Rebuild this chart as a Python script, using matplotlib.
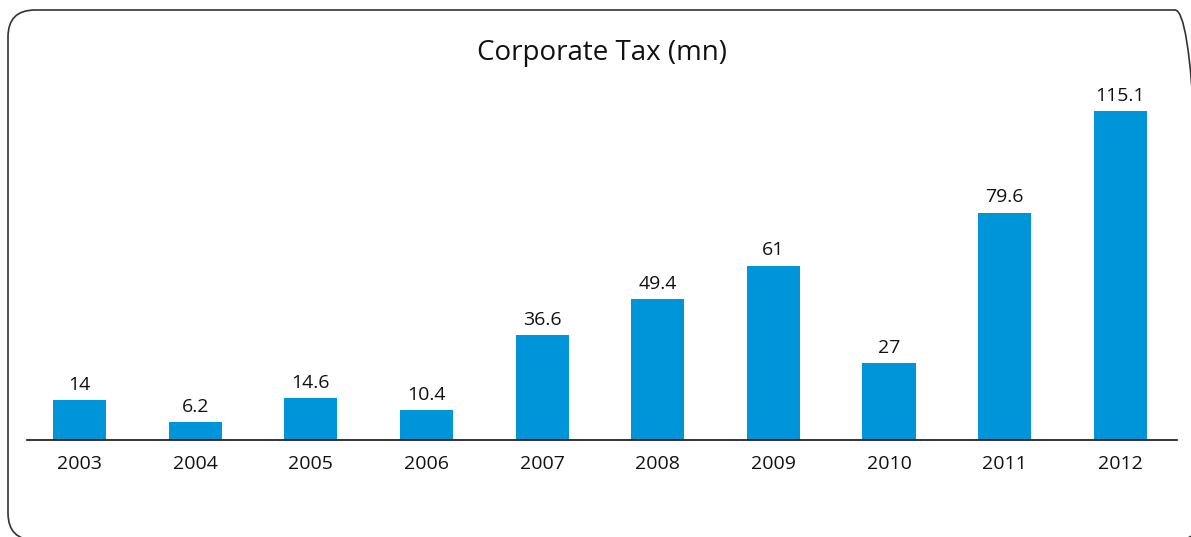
import matplotlib.pyplot as plt
from matplotlib.patches import FancyBboxPatch
from matplotlib.transforms import IdentityTransform

years = ['2003', '2004', '2005', '2006', '2007', '2008', '2009', '2010', '2011', '2012']
tax = [14, 6.2, 14.6, 10.4, 36.6, 49.4, 61, 27, 79.6, 115.1]
labels = ['14', '6.2', '14.6', '10.4', '36.6', '49.4', '61', '27', '79.6', '115.1']

plt.rcParams['font.family'] = ['Open Sans', 'DejaVu Sans']

W, H = 1191, 537
fig = plt.figure(figsize=(W / 100, H / 100), dpi=100)

# axes placed in pixel terms: baseline at y=440, line from x=27 to x=1177
ax = fig.add_axes([27 / W, 1 - 440 / H, (1177 - 27) / W, (440 - 90) / H])
x = range(len(years))
ax.bar(x, tax, width=0.46, color='#0094d9')
ax.set_xlim(-0.455, 9.49)
ax.set_ylim(0, (440 - 90) / 2.858)

for i, (v, s) in enumerate(zip(tax, labels)):
    ax.text(i, v + 2.2, s, ha='center', va='bottom', fontsize=14, color='#111111')

for side in ['top', 'right', 'left']:
    ax.spines[side].set_visible(False)
ax.spines['bottom'].set_linewidth(1.2)
ax.spines['bottom'].set_color('#111111')
ax.set_yticks([])
ax.set_xticks(list(x))
ax.set_xticklabels(years, fontsize=14, color='#111111')
ax.tick_params(axis='x', length=0, pad=11)

fig.text(602 / W, 1 - 53 / H, 'Corporate Tax (mn)', ha='center', va='center',
         fontsize=20, color='#111111')

# rounded frame, in pixels (right edge sits off the canvas)
box = FancyBboxPatch((8, -3), 1194, 530, boxstyle='round,pad=0,rounding_size=27',
                     transform=IdentityTransform(), facecolor='none',
                     edgecolor='#333333', linewidth=1.2)
fig.add_artist(box)

fig.savefig('out.png', dpi=100)
